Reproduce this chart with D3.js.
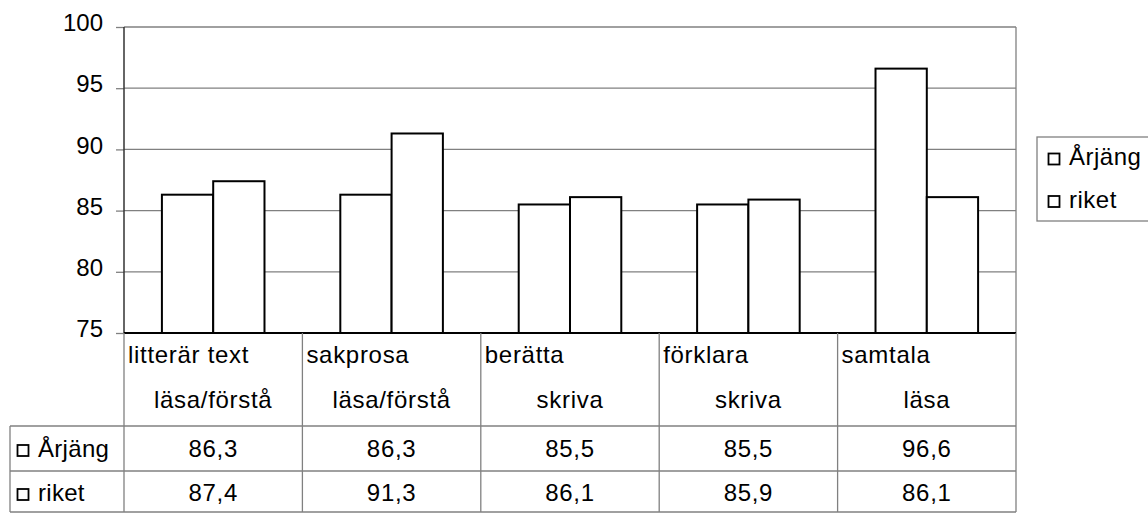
<!DOCTYPE html>
<html>
<head>
<meta charset="utf-8">
<script src="https://cdn.jsdelivr.net/npm/d3@7"></script>
<style>
  body { margin: 0; background: #fff; }
  svg { display: block; font-family: "Liberation Sans", Arial, sans-serif; }
</style>
</head>
<body>
<div id="chart"></div>
<script>
// chart data
const categories = ["litterär text", "sakprosa", "berätta", "förklara", "samtala"];
const subLabels = ["läsa/förstå", "läsa/förstå", "skriva", "skriva", "läsa"];
const seriesNames = ["Årjäng", "riket"];
const arjang = [86.3, 86.3, 85.5, 85.5, 96.6];
const riket = [87.4, 91.3, 86.1, 85.9, 86.1];
const yTicks = [75, 80, 85, 90, 95, 100];

const values = [arjang, riket];
const fmt = v => String(v.toFixed(1)).replace(".", ",");

const width = 1148, height = 529;
const plotL = 124, plotR = 1016, plotT = 27, plotB = 333;
const tableLeft = 10, headBottom = 426, row1Bottom = 471, row2Bottom = 512;
const grid = "#808080";

const svg = d3.select("#chart").append("svg")
  .attr("width", width)
  .attr("height", height);

const y = d3.scaleLinear().domain([75, 100]).range([plotB, plotT]);
const x0 = d3.scaleBand().domain(categories).range([plotL, plotR]);
const bw = x0.bandwidth();
const x1 = d3.scaleBand().domain(seriesNames).range([bw * 0.2125, bw * 0.7875]);

// gridlines
svg.append("g").selectAll("line")
  .data(yTicks.filter(t => t > 75))
  .enter().append("line")
  .attr("x1", plotL).attr("x2", plotR)
  .attr("y1", d => y(d)).attr("y2", d => y(d))
  .attr("stroke", grid).attr("stroke-width", 1.3);

// right border
svg.append("line")
  .attr("x1", plotR).attr("x2", plotR)
  .attr("y1", plotT).attr("y2", plotB)
  .attr("stroke", grid).attr("stroke-width", 1.3);

// y axis
const yAxis = d3.axisLeft(y).tickValues(yTicks).tickSize(8).tickPadding(13);
const ya = svg.append("g")
  .attr("transform", `translate(${plotL},0)`)
  .call(yAxis);
ya.select(".domain").remove();
ya.selectAll(".tick line").attr("stroke", grid).attr("stroke-width", 1.3);
ya.selectAll(".tick text")
  .attr("font-size", 24)
  .attr("fill", "#000")
  .attr("dy", "0.15em")
  .style("font-family", "Liberation Sans, Arial, sans-serif");
svg.append("line")
  .attr("x1", plotL).attr("x2", plotL)
  .attr("y1", plotT).attr("y2", plotB)
  .attr("stroke", "#333").attr("stroke-width", 1.5);

// bars
const groups = svg.append("g").selectAll("g")
  .data(categories)
  .enter().append("g")
  .attr("transform", d => `translate(${x0(d)},0)`);

groups.selectAll("rect")
  .data((d, i) => seriesNames.map((s, j) => ({ s, v: values[j][i] })))
  .enter().append("rect")
  .attr("x", d => x1(d.s))
  .attr("width", x1.bandwidth())
  .attr("y", d => y(d.v))
  .attr("height", d => y(75) - y(d.v))
  .attr("fill", "#fff")
  .attr("stroke", "#000")
  .attr("stroke-width", 2);

// x axis line
svg.append("line")
  .attr("x1", plotL).attr("x2", plotR)
  .attr("y1", plotB).attr("y2", plotB)
  .attr("stroke", "#000").attr("stroke-width", 2);

// data table
const table = svg.append("g").attr("stroke", grid).attr("stroke-width", 1.3);
categories.forEach(c => {
  table.append("line")
    .attr("x1", x0(c) + bw).attr("x2", x0(c) + bw)
    .attr("y1", plotB).attr("y2", row2Bottom);
});
table.append("line").attr("x1", plotL).attr("x2", plotL).attr("y1", plotB).attr("y2", row2Bottom);
table.append("line").attr("x1", tableLeft).attr("x2", tableLeft).attr("y1", headBottom).attr("y2", row2Bottom);
[headBottom, row1Bottom, row2Bottom].forEach(yy => {
  table.append("line").attr("x1", tableLeft).attr("x2", plotR).attr("y1", yy).attr("y2", yy);
});

const txt = svg.append("g").attr("font-size", 24).attr("fill", "#000").attr("letter-spacing", 0.7);
txt.selectAll(".cat1")
  .data(categories)
  .enter().append("text")
  .attr("x", d => x0(d) + 4)
  .attr("y", 363)
  .text(d => d);
txt.selectAll(".cat2")
  .data(subLabels)
  .enter().append("text")
  .attr("x", (d, i) => x0(categories[i]) + bw / 2)
  .attr("y", 408)
  .attr("text-anchor", "middle")
  .text(d => d);

const rowBase = [457, 501];
values.forEach((vals, j) => {
  txt.selectAll(".v" + j)
    .data(vals)
    .enter().append("text")
    .attr("x", (d, i) => x0(categories[i]) + bw / 2)
    .attr("y", rowBase[j])
    .attr("text-anchor", "middle")
    .text(d => fmt(d));
  svg.append("rect")
    .attr("x", 17.5).attr("y", rowBase[j] - 12)
    .attr("width", 11).attr("height", 11)
    .attr("fill", "#fff").attr("stroke", "#000").attr("stroke-width", 1.8);
  txt.append("text")
    .attr("x", 38)
    .attr("y", rowBase[j])
    .attr("letter-spacing", 0.3)
    .text(seriesNames[j]);
});

// legend
const legend = svg.append("g");
legend.append("rect")
  .attr("x", 1037).attr("y", 137)
  .attr("width", 130).attr("height", 84)
  .attr("fill", "#fff").attr("stroke", grid).attr("stroke-width", 1.3);
seriesNames.forEach((s, j) => {
  const by = 165 + j * 42.5;
  legend.append("rect")
    .attr("x", 1048.5).attr("y", by - 11.5)
    .attr("width", 11).attr("height", 11)
    .attr("fill", "#fff").attr("stroke", "#000").attr("stroke-width", 1.8);
  legend.append("text")
    .attr("x", 1069).attr("y", by)
    .attr("font-size", 24)
    .attr("letter-spacing", 0.5)
    .text(s);
});
</script>
</body>
</html>
